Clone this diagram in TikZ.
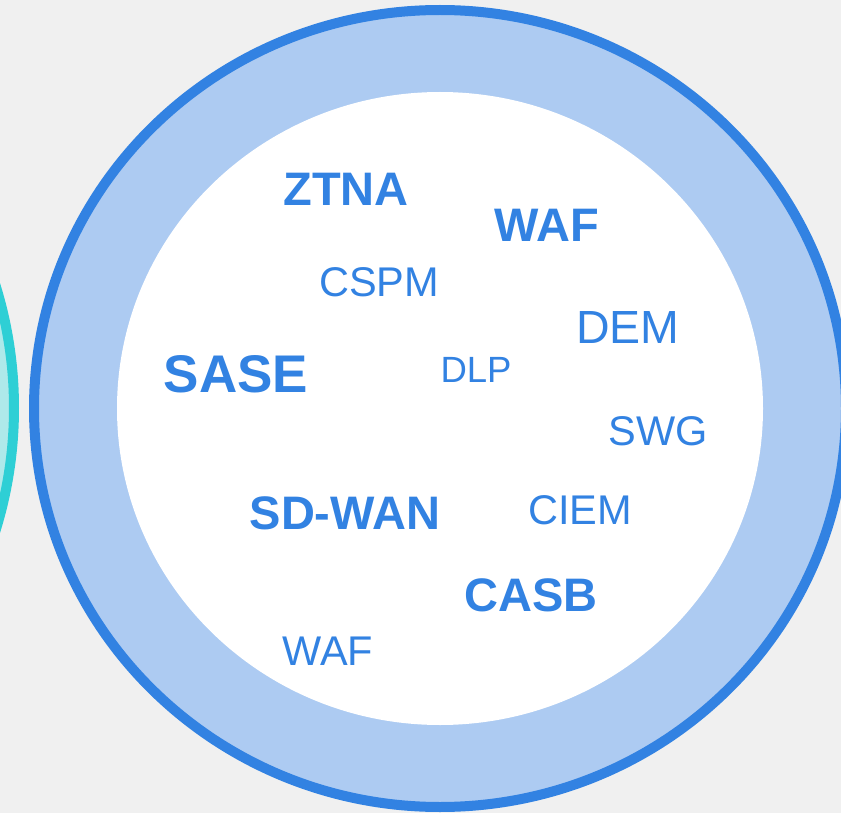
\documentclass[tikz,border=0pt]{standalone}
\usepackage{fontspec}
\setmainfont{Liberation Sans}
\definecolor{ringblue}{HTML}{3282E2}
\definecolor{palering}{HTML}{ADCBF2}
\definecolor{tealring}{HTML}{2ECFD5}
\definecolor{paleteal}{HTML}{AEE9EA}
\definecolor{bggray}{HTML}{F0F0F0}

\begin{document}
\begin{tikzpicture}
    [x=1pt,y=1pt,
     big/.style={text=ringblue,inner sep=0pt,font=\fontsize{47}{47}\selectfont\bfseries},
     plain/.style={text=ringblue,inner sep=0pt,font=\fontsize{41.5}{41.5}\selectfont}]

    \fill[bggray] (0,0) rectangle (841,-813);
    \useasboundingbox (0,0) rectangle (841,-813);

    % rings
    \draw[tealring,fill=paleteal,line width=10pt] (-399,-408) circle (413);
    \draw[ringblue,fill=palering,line width=10pt] (440,-408.5) ellipse (406 and 398.5);
    \fill[white] (440,-408.5) ellipse (323 and 316.5);

\node[big] (ztna) at (346,-189) {ZTNA};
\node[big] (waf1) at (547,-225) {WAF};
\node[plain] (cspm) at (379,-282) {CSPM};
\node[plain,font=\fontsize{46.5}{46.5}\selectfont] (dem) at (628,-328) {DEM};
\node[big,font=\fontsize{53}{53}\selectfont\bfseries] (sase) at (236,-374) {SASE};
\node[plain,font=\fontsize{36.5}{36.5}\selectfont] (dlp) at (476,-370) {DLP};
\node[plain] (swg) at (658,-431) {SWG};
\node[big] (sdwan) at (345,-513) {SD-WAN};
\node[plain] (ciem) at (580,-510) {CIEM};
\node[big] (casb) at (531,-595) {CASB};
\node[plain] (waf2) at (328,-651) {WAF};

  \end{tikzpicture}
\end{document}
